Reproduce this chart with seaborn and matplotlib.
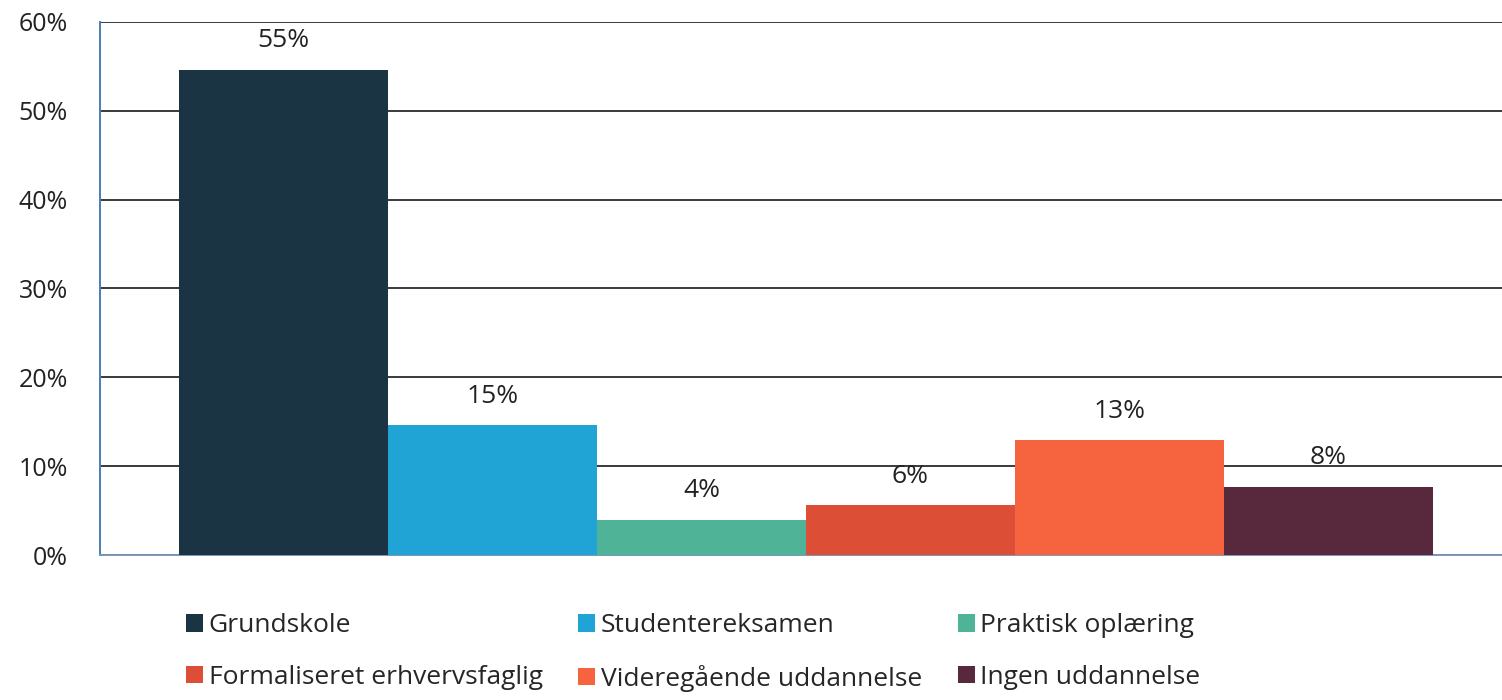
import matplotlib
matplotlib.use("Agg")
import matplotlib.pyplot as plt
import seaborn as sns
import pandas as pd

# Uddannelse - andel (%)
categories = ['Grundskole', 'Studentereksamen', 'Praktisk oplæring',
              'Formaliseret erhvervsfaglig', 'Videregående uddannelse', 'Ingen uddannelse']
values = [54.6, 14.6, 4.0, 5.6, 12.9, 7.7]
colors = ['#1b3444', '#20a4d6', '#4fb397', '#dc4e35', '#f5643f', '#58283c']
yticks = [0, 10, 20, 30, 40, 50, 60]

df = pd.DataFrame({'uddannelse': categories, 'andel': values})

sns.set_style('white')
plt.rcParams['font.family'] = ['Open Sans', 'DejaVu Sans']

fig = plt.figure(figsize=(15.02, 7), dpi=100)
ax = fig.add_axes([0.0666, 0.207, 0.94, 0.762])

sns.barplot(data=df, x='uddannelse', y='andel', hue='uddannelse',
            palette=colors, saturation=1, width=1.0, linewidth=0,
            ax=ax, legend=True, zorder=3)

ax.set_ylim(0, 60)
ax.set_xlim(-0.88, 5.88)
ax.set_yticks(yticks)
ax.set_yticklabels([f'{t}%' for t in yticks], fontsize=18, color='#222222')
ax.tick_params(axis='y', length=0, pad=23)
ax.set_xticks([])
ax.set_xlabel('')
ax.set_ylabel('')
ax.grid(axis='y', color='#3a3a3a', linewidth=1.4, zorder=0)

for s in ['top', 'right']:
    ax.spines[s].set_visible(False)
ax.spines['left'].set_color('#4a7fb0')
ax.spines['bottom'].set_color('#7f95b5')
ax.spines['left'].set_linewidth(1.4)
ax.spines['bottom'].set_linewidth(1.4)

for cont in ax.containers:
    ax.bar_label(cont, labels=[f'{v:.0f}%' for v in cont.datavalues],
                 padding=12, fontsize=19, color='#222222')

handles, labels = ax.get_legend_handles_labels()
ax.get_legend().remove()
order = [0, 3, 1, 4, 2, 5]
fig.legend([handles[i] for i in order], [labels[i] for i in order],
           loc='upper left', bbox_to_anchor=(0.124, 0.124), ncol=3,
           frameon=False, fontsize=19, handlelength=0.65, handleheight=0.65,
           handletextpad=0.2, columnspacing=1.35, labelspacing=1.0,
           borderaxespad=0, borderpad=0)

fig.savefig('out.png', dpi=100)
